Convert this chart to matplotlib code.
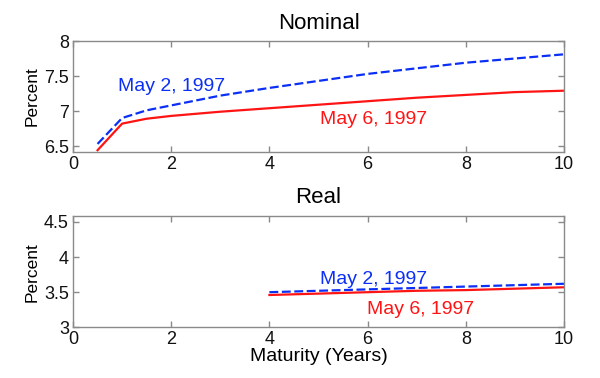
import matplotlib
matplotlib.use("Agg")
import matplotlib.pyplot as plt

# Nominal yield curves
nom_maturity = [0.5, 1, 1.5, 2, 3, 4, 5, 6, 7, 8, 9, 10]
nom_may2 = [6.53, 6.90, 7.01, 7.08, 7.22, 7.33, 7.43, 7.53, 7.61, 7.69, 7.75, 7.81]
nom_may6 = [6.44, 6.82, 6.89, 6.93, 6.99, 7.04, 7.09, 7.14, 7.19, 7.23, 7.27, 7.29]

# Real yield curves
real_maturity = [4, 5, 6, 7, 8, 9, 10]
real_may2 = [3.50, 3.52, 3.54, 3.56, 3.58, 3.60, 3.62]
real_may6 = [3.46, 3.48, 3.50, 3.52, 3.53, 3.55, 3.57]

xticks = [0, 2, 4, 6, 8, 10]
nom_yticks = [6.5, 7, 7.5, 8]
real_yticks = [3, 3.5, 4, 4.5]

plt.rcParams['font.family'] = ['Liberation Sans', 'DejaVu Sans']

BLUE = '#0b2ff5'
RED = '#ff1414'
SPINE = '#8a8a8a'

fig = plt.figure(figsize=(6, 3.78), dpi=100)
ax1 = fig.add_axes([0.1217, 0.598, 0.8183, 0.2935])
ax2 = fig.add_axes([0.1217, 0.1341, 0.8183, 0.2945])

def style(ax):
    for s in ax.spines.values():
        s.set_color(SPINE)
        s.set_linewidth(1.0)
    ax.tick_params(direction='in', length=4, width=1, color=SPINE,
                   top=True, right=True, labelsize=13, labelcolor='#111111', pad=3)

ax1.plot(nom_maturity, nom_may2, color=BLUE, lw=1.6, ls=(0, (4, 1.6)))
ax1.plot(nom_maturity, nom_may6, color=RED, lw=1.6)
ax1.set_xlim(0, 10)
ax1.set_ylim(6.415, 8)
ax1.set_xticks(xticks)
ax1.set_yticks(nom_yticks)
ax1.set_yticklabels(['6.5', '7', '7.5', '8'])
ax1.set_title('Nominal', fontsize=16, pad=9)
ax1.set_ylabel('Percent', fontsize=12.5, labelpad=3)
ax1.text(0.92, 7.28, 'May 2, 1997', color=BLUE, fontsize=14, ha='left', va='baseline')
ax1.text(5.03, 6.82, 'May 6, 1997', color=RED, fontsize=14, ha='left', va='baseline')
style(ax1)

ax2.plot(real_maturity, real_may2, color=BLUE, lw=1.6, ls=(0, (4, 1.6)))
ax2.plot(real_maturity, real_may6, color=RED, lw=1.6)
ax2.set_xlim(0, 10)
ax2.set_ylim(3, 4.585)
ax2.set_xticks(xticks)
ax2.set_yticks(real_yticks)
ax2.set_yticklabels(['3', '3.5', '4', '4.5'])
ax2.set_title('Real', fontsize=16, pad=9)
ax2.set_ylabel('Percent', fontsize=12.5, labelpad=3)
ax2.set_xlabel('Maturity (Years)', fontsize=14, labelpad=0)
ax2.text(5.03, 3.62, 'May 2, 1997', color=BLUE, fontsize=14, ha='left', va='baseline')
ax2.text(5.99, 3.19, 'May 6, 1997', color=RED, fontsize=14, ha='left', va='baseline')
style(ax2)

fig.savefig('out.png', dpi=100, facecolor='white')
